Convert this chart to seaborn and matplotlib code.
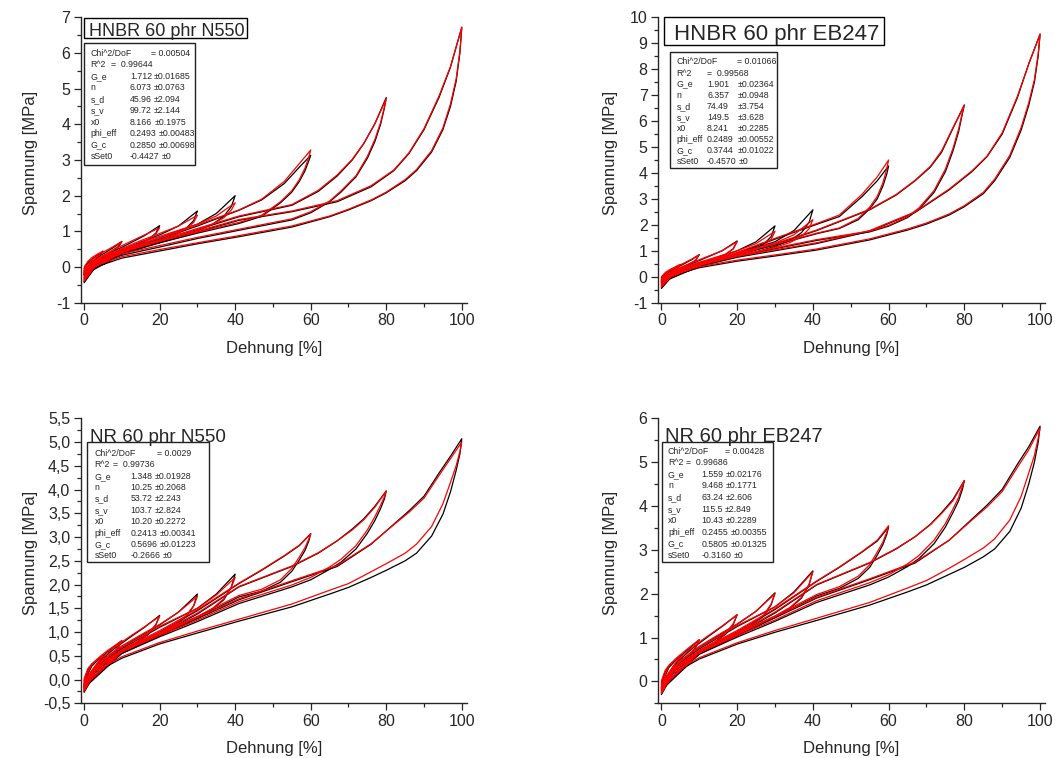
import matplotlib
matplotlib.use("Agg")
import matplotlib.pyplot as plt
from matplotlib.patches import Rectangle
from matplotlib.ticker import MultipleLocator, FuncFormatter
import seaborn as sns
import pandas as pd

sns.set_style("ticks")
plt.rcParams['font.family'] = ['Liberation Sans', 'DejaVu Sans']

W, H = 1055, 758

# ---------------- data ----------------
PEAKS = [5, 10, 20, 30, 40, 60, 80, 100]
LOAD_X = [
    [0, 1, 2, 3.5, 5],
    [0, 2, 4, 6, 8, 10],
    [0, 4, 8, 12, 16, 20],
    [0, 5, 10, 15, 20, 25, 30],
    [0, 5, 10, 20, 30, 35, 40],
    [0, 10, 20, 30, 41, 47, 53, 57, 60],
    [0, 10, 20, 30, 41, 55, 62, 67, 71, 74, 77, 80],
    [0, 10, 20, 41, 55, 67, 76, 82, 86, 90, 94, 97, 100],
]
UNLOAD_X = [
    [5, 4, 3, 2, 1, 0],
    [10, 9, 7, 5, 3, 1, 0],
    [20, 19, 17, 14, 10, 6, 2, 0],
    [30, 29, 27, 24, 20, 14, 8, 3, 0],
    [40, 39, 37, 34, 30, 24, 16, 8, 3, 0],
    [60, 59.5, 58.5, 57, 55, 52, 47, 41, 30, 20, 10, 3, 0],
    [80, 79.5, 78.5, 77, 75, 72, 68, 65, 60, 55, 41, 30, 20, 10, 3, 0],
    [100, 99.5, 98.5, 97, 95, 92, 88, 85, 80, 76, 70, 65, 55, 41, 30, 20, 10, 3, 0],
]

# HNBR 60 phr N550  (K = Messung, schwarz; R = Fit, rot)
A_LOAD_K = [
    [-0.05, 0.12, 0.22, 0.33, 0.43],
    [-0.1, 0.15, 0.3, 0.43, 0.56, 0.71],
    [-0.12, 0.22, 0.45, 0.66, 0.88, 1.16],
    [-0.15, 0.25, 0.48, 0.7, 0.9, 1.15, 1.57],
    [-0.18, 0.22, 0.45, 0.82, 1.2, 1.5, 2.0],
    [-0.2, 0.4, 0.78, 1.15, 1.59, 1.88, 2.34, 2.8, 3.13],
    [-0.2, 0.38, 0.72, 1.05, 1.41, 1.73, 2.12, 2.55, 3.0, 3.45, 4.02, 4.75],
    [-0.22, 0.36, 0.68, 1.31, 1.55, 1.83, 2.25, 2.7, 3.18, 3.85, 4.76, 5.6, 6.72],
]
A_UNLOAD_K = [
    [0.43, 0.3, 0.2, 0.1, -0.02, -0.2],
    [0.71, 0.55, 0.38, 0.26, 0.13, -0.05, -0.25],
    [1.16, 0.95, 0.77, 0.6, 0.43, 0.25, 0.02, -0.3],
    [1.57, 1.3, 1.08, 0.9, 0.72, 0.52, 0.3, 0.05, -0.33],
    [2.0, 1.7, 1.42, 1.2, 1.02, 0.82, 0.58, 0.32, 0.08, -0.36],
    [3.13, 2.98, 2.7, 2.4, 2.1, 1.8, 1.42, 1.22, 0.95, 0.68, 0.4, 0.1, -0.4],
    [4.75, 4.45, 4.0, 3.52, 3.05, 2.53, 2.1, 1.83, 1.52, 1.32, 1.03, 0.8, 0.56, 0.33, 0.06, -0.42],
    [6.72, 6.0, 5.2, 4.5, 3.85, 3.22, 2.7, 2.42, 2.08, 1.86, 1.6, 1.41, 1.12, 0.85, 0.65, 0.45, 0.25, 0.0, -0.44],
]
A_LOAD_R = [
    [0.0, 0.16, 0.26, 0.36, 0.45],
    [-0.05, 0.2, 0.35, 0.47, 0.59, 0.72],
    [-0.08, 0.27, 0.5, 0.7, 0.9, 1.1],
    [-0.1, 0.3, 0.52, 0.74, 0.94, 1.15, 1.45],
    [-0.12, 0.28, 0.5, 0.86, 1.2, 1.43, 1.8],
    [-0.15, 0.45, 0.82, 1.18, 1.6, 1.9, 2.4, 2.9, 3.28],
    [-0.15, 0.43, 0.76, 1.08, 1.43, 1.75, 2.15, 2.58, 3.02, 3.46, 4.02, 4.72],
    [-0.17, 0.41, 0.72, 1.33, 1.57, 1.86, 2.28, 2.72, 3.2, 3.88, 4.8, 5.62, 6.72],
]
A_UNLOAD_R = [
    [0.45, 0.33, 0.24, 0.14, 0.02, -0.15],
    [0.72, 0.58, 0.42, 0.3, 0.17, -0.01, -0.2],
    [1.1, 0.93, 0.78, 0.63, 0.47, 0.29, 0.06, -0.25],
    [1.45, 1.25, 1.07, 0.92, 0.75, 0.56, 0.34, 0.09, -0.28],
    [1.8, 1.6, 1.38, 1.2, 1.04, 0.85, 0.62, 0.36, 0.12, -0.3],
    [3.28, 3.08, 2.78, 2.45, 2.14, 1.83, 1.45, 1.25, 0.98, 0.72, 0.44, 0.14, -0.35],
    [4.72, 4.48, 4.05, 3.58, 3.1, 2.56, 2.13, 1.85, 1.55, 1.35, 1.06, 0.83, 0.6, 0.37, 0.1, -0.38],
    [6.72, 6.05, 5.27, 4.57, 3.9, 3.26, 2.73, 2.45, 2.1, 1.88, 1.62, 1.43, 1.15, 0.88, 0.68, 0.49, 0.29, 0.04, -0.4],
]

# HNBR 60 phr EB247
B_LOAD_K = [
    [-0.05, 0.12, 0.22, 0.34, 0.46],
    [-0.1, 0.18, 0.35, 0.5, 0.66, 0.85],
    [-0.12, 0.25, 0.5, 0.75, 1.0, 1.38],
    [-0.15, 0.27, 0.52, 0.76, 1.0, 1.35, 1.96],
    [-0.18, 0.25, 0.5, 0.9, 1.35, 1.78, 2.58],
    [-0.2, 0.45, 0.9, 1.45, 2.02, 2.32, 3.09, 3.7, 4.27],
    [-0.2, 0.42, 0.82, 1.25, 1.78, 2.58, 3.15, 3.7, 4.22, 4.8, 5.72, 6.62],
    [-0.22, 0.4, 0.75, 1.28, 1.75, 2.48, 3.35, 4.05, 4.63, 5.5, 6.9, 8.2, 9.35],
]
B_UNLOAD_K = [
    [0.46, 0.3, 0.2, 0.1, -0.02, -0.2],
    [0.85, 0.62, 0.44, 0.3, 0.15, -0.05, -0.25],
    [1.38, 1.08, 0.86, 0.68, 0.48, 0.28, 0.02, -0.3],
    [1.96, 1.55, 1.25, 1.02, 0.82, 0.58, 0.33, 0.06, -0.33],
    [2.58, 2.1, 1.7, 1.4, 1.17, 0.92, 0.64, 0.35, 0.08, -0.36],
    [4.27, 3.95, 3.5, 3.0, 2.62, 2.2, 1.86, 1.66, 1.22, 0.86, 0.5, 0.12, -0.4],
    [6.62, 6.3, 5.6, 4.85, 4.05, 3.25, 2.6, 2.28, 1.95, 1.73, 1.4, 1.08, 0.78, 0.45, 0.1, -0.42],
    [9.35, 8.5, 7.5, 6.6, 5.65, 4.6, 3.7, 3.2, 2.7, 2.38, 2.03, 1.8, 1.42, 1.03, 0.8, 0.6, 0.35, 0.05, -0.45],
]
B_LOAD_R = [
    [0.0, 0.16, 0.26, 0.37, 0.48],
    [-0.05, 0.22, 0.39, 0.53, 0.68, 0.85],
    [-0.08, 0.3, 0.54, 0.77, 1.0, 1.35],
    [-0.1, 0.32, 0.56, 0.78, 1.0, 1.28, 1.75],
    [-0.12, 0.3, 0.54, 0.92, 1.3, 1.62, 2.2],
    [-0.15, 0.5, 0.94, 1.48, 2.05, 2.38, 3.18, 3.85, 4.5],
    [-0.15, 0.47, 0.86, 1.28, 1.8, 2.6, 3.17, 3.72, 4.25, 4.85, 5.75, 6.62],
    [-0.17, 0.45, 0.79, 1.31, 1.78, 2.5, 3.38, 4.08, 4.65, 5.55, 6.95, 8.2, 9.35],
]
B_UNLOAD_R = [
    [0.48, 0.33, 0.24, 0.14, 0.02, -0.15],
    [0.85, 0.64, 0.47, 0.33, 0.19, -0.01, -0.2],
    [1.35, 1.08, 0.88, 0.7, 0.51, 0.31, 0.06, -0.25],
    [1.75, 1.45, 1.2, 1.0, 0.83, 0.6, 0.36, 0.1, -0.28],
    [2.2, 1.85, 1.55, 1.32, 1.14, 0.92, 0.66, 0.38, 0.12, -0.3],
    [4.5, 4.15, 3.62, 3.1, 2.68, 2.25, 1.88, 1.68, 1.25, 0.9, 0.54, 0.16, -0.35],
    [6.62, 6.35, 5.7, 4.95, 4.15, 3.32, 2.65, 2.32, 1.98, 1.76, 1.43, 1.11, 0.82, 0.49, 0.14, -0.38],
    [9.35, 8.6, 7.6, 6.7, 5.75, 4.68, 3.76, 3.25, 2.74, 2.42, 2.07, 1.84, 1.46, 1.07, 0.84, 0.64, 0.39, 0.09, -0.4],
]

# NR 60 phr N550
C_LOAD_K = [
    [-0.02, 0.2, 0.3, 0.41, 0.5],
    [-0.05, 0.28, 0.44, 0.57, 0.69, 0.82],
    [-0.08, 0.38, 0.65, 0.88, 1.1, 1.35],
    [-0.1, 0.4, 0.68, 0.92, 1.15, 1.42, 1.8],
    [-0.12, 0.38, 0.65, 1.1, 1.5, 1.8, 2.22],
    [-0.15, 0.6, 1.0, 1.45, 2.02, 2.3, 2.6, 2.82, 3.07],
    [-0.16, 0.58, 0.95, 1.38, 1.95, 2.38, 2.66, 2.92, 3.17, 3.38, 3.65, 3.97],
    [-0.18, 0.55, 0.92, 1.68, 2.06, 2.38, 2.85, 3.27, 3.55, 3.86, 4.35, 4.7, 5.07],
]
C_UNLOAD_K = [
    [0.5, 0.36, 0.26, 0.16, 0.05, -0.12],
    [0.82, 0.66, 0.5, 0.38, 0.24, 0.05, -0.15],
    [1.35, 1.15, 0.95, 0.78, 0.6, 0.4, 0.12, -0.18],
    [1.8, 1.55, 1.32, 1.15, 0.97, 0.76, 0.5, 0.2, -0.2],
    [2.22, 1.95, 1.68, 1.48, 1.3, 1.08, 0.8, 0.48, 0.18, -0.22],
    [3.07, 2.92, 2.72, 2.52, 2.28, 2.05, 1.86, 1.74, 1.3, 0.95, 0.56, 0.2, -0.24],
    [3.97, 3.8, 3.6, 3.35, 3.08, 2.75, 2.47, 2.32, 2.1, 1.95, 1.6, 1.22, 0.9, 0.55, 0.2, -0.25],
    [5.07, 4.75, 4.4, 3.95, 3.48, 3.02, 2.66, 2.5, 2.3, 2.15, 1.94, 1.8, 1.53, 1.23, 0.98, 0.75, 0.45, 0.15, -0.27],
]
C_LOAD_R = [
    [0.02, 0.23, 0.33, 0.43, 0.5],
    [-0.01, 0.31, 0.47, 0.6, 0.71, 0.82],
    [-0.04, 0.41, 0.68, 0.9, 1.11, 1.33],
    [-0.06, 0.43, 0.71, 0.94, 1.16, 1.42, 1.75],
    [-0.08, 0.41, 0.68, 1.12, 1.5, 1.78, 2.15],
    [-0.11, 0.63, 1.03, 1.47, 2.03, 2.31, 2.61, 2.83, 3.07],
    [-0.12, 0.61, 0.98, 1.4, 1.96, 2.39, 2.67, 2.92, 3.15, 3.36, 3.63, 3.97],
    [-0.14, 0.58, 0.95, 1.7, 2.08, 2.4, 2.86, 3.26, 3.52, 3.82, 4.3, 4.65, 5.0],
]
C_UNLOAD_R = [
    [0.5, 0.38, 0.28, 0.18, 0.07, -0.1],
    [0.82, 0.68, 0.52, 0.4, 0.26, 0.07, -0.13],
    [1.33, 1.16, 0.97, 0.8, 0.62, 0.42, 0.14, -0.16],
    [1.75, 1.55, 1.34, 1.17, 0.99, 0.78, 0.52, 0.22, -0.18],
    [2.15, 1.95, 1.7, 1.5, 1.32, 1.1, 0.82, 0.5, 0.2, -0.2],
    [3.07, 2.96, 2.78, 2.58, 2.34, 2.1, 1.9, 1.77, 1.33, 0.98, 0.59, 0.22, -0.22],
    [3.97, 3.85, 3.67, 3.43, 3.15, 2.82, 2.53, 2.37, 2.15, 1.99, 1.64, 1.25, 0.93, 0.58, 0.22, -0.23],
    [5.0, 4.8, 4.5, 4.15, 3.7, 3.22, 2.85, 2.66, 2.44, 2.27, 2.02, 1.88, 1.59, 1.27, 1.02, 0.78, 0.48, 0.18, -0.25],
]

# NR 60 phr EB247
D_LOAD_K = [
    [-0.03, 0.22, 0.34, 0.47, 0.6],
    [-0.06, 0.32, 0.5, 0.65, 0.8, 0.95],
    [-0.09, 0.43, 0.74, 1.0, 1.25, 1.52],
    [-0.11, 0.45, 0.77, 1.04, 1.3, 1.6, 2.02],
    [-0.13, 0.43, 0.74, 1.25, 1.7, 2.04, 2.52],
    [-0.17, 0.68, 1.13, 1.64, 2.28, 2.6, 2.95, 3.2, 3.52],
    [-0.18, 0.66, 1.07, 1.56, 2.2, 2.7, 3.02, 3.3, 3.58, 3.85, 4.15, 4.58],
    [-0.2, 0.62, 1.04, 1.9, 2.32, 2.7, 3.22, 3.7, 4.02, 4.38, 4.95, 5.35, 5.82],
]
D_UNLOAD_K = [
    [0.6, 0.42, 0.3, 0.18, 0.05, -0.14],
    [0.95, 0.76, 0.57, 0.43, 0.27, 0.05, -0.17],
    [1.52, 1.3, 1.08, 0.88, 0.68, 0.45, 0.13, -0.2],
    [2.02, 1.75, 1.49, 1.3, 1.1, 0.86, 0.56, 0.22, -0.22],
    [2.52, 2.2, 1.9, 1.67, 1.47, 1.22, 0.9, 0.54, 0.2, -0.25],
    [3.52, 3.35, 3.12, 2.88, 2.6, 2.35, 2.12, 1.95, 1.46, 1.07, 0.63, 0.22, -0.27],
    [4.58, 4.38, 4.12, 3.85, 3.52, 3.14, 2.8, 2.62, 2.38, 2.2, 1.8, 1.37, 1.01, 0.62, 0.22, -0.28],
    [5.82, 5.45, 5.0, 4.5, 3.95, 3.42, 3.02, 2.84, 2.6, 2.44, 2.2, 2.04, 1.74, 1.39, 1.12, 0.85, 0.51, 0.17, -0.3],
]
D_LOAD_R = [
    [0.01, 0.25, 0.37, 0.49, 0.6],
    [-0.02, 0.35, 0.53, 0.68, 0.82, 0.95],
    [-0.05, 0.46, 0.77, 1.02, 1.26, 1.52],
    [-0.07, 0.48, 0.8, 1.06, 1.31, 1.6, 2.0],
    [-0.09, 0.46, 0.77, 1.27, 1.7, 2.02, 2.5],
    [-0.13, 0.71, 1.16, 1.66, 2.29, 2.61, 2.96, 3.22, 3.55],
    [-0.14, 0.69, 1.1, 1.58, 2.21, 2.71, 3.03, 3.3, 3.57, 3.83, 4.12, 4.58],
    [-0.16, 0.65, 1.07, 1.92, 2.34, 2.72, 3.22, 3.68, 3.98, 4.33, 4.88, 5.28, 5.78],
]
D_UNLOAD_R = [
    [0.6, 0.44, 0.32, 0.2, 0.07, -0.12],
    [0.95, 0.78, 0.59, 0.45, 0.29, 0.07, -0.15],
    [1.52, 1.32, 1.1, 0.9, 0.7, 0.47, 0.15, -0.18],
    [2.0, 1.77, 1.51, 1.32, 1.12, 0.88, 0.58, 0.24, -0.2],
    [2.5, 2.22, 1.92, 1.69, 1.49, 1.24, 0.92, 0.56, 0.22, -0.23],
    [3.55, 3.4, 3.18, 2.95, 2.66, 2.4, 2.16, 1.98, 1.49, 1.1, 0.66, 0.24, -0.25],
    [4.58, 4.45, 4.2, 3.93, 3.6, 3.22, 2.87, 2.68, 2.43, 2.25, 1.84, 1.4, 1.04, 0.65, 0.24, -0.26],
    [5.78, 5.55, 5.15, 4.75, 4.22, 3.68, 3.25, 3.04, 2.78, 2.58, 2.3, 2.13, 1.8, 1.44, 1.16, 0.88, 0.54, 0.2, -0.28],
]

TITLES = ["HNBR 60 phr N550", "HNBR 60 phr EB247", "NR 60 phr N550", "NR 60 phr EB247"]
PARAM_NAMES = ["G_e", "n", "s_d", "s_v", "x0", "phi_eff", "G_c", "sSet0"]
A_STATS = ["0.00504", "0.99644", ["1.712", "6.073", "45.96", "99.72", "8.166", "0.2493", "0.2850", "-0.4427"],
           ["0.01685", "0.0763", "2.094", "2.144", "0.1975", "0.00483", "0.00698", "0"]]
B_STATS = ["0.01066", "0.99568", ["1.901", "6.357", "74.49", "149.5", "8.241", "0.2489", "0.3744", "-0.4570"],
           ["0.02364", "0.0948", "3.754", "3.628", "0.2285", "0.00552", "0.01022", "0"]]
C_STATS = ["0.0029", "0.99736", ["1.348", "10.25", "53.72", "103.7", "10.20", "0.2413", "0.5696", "-0.2666"],
           ["0.01928", "0.2068", "2.243", "2.824", "0.2272", "0.00341", "0.01223", "0"]]
D_STATS = ["0.00428", "0.99686", ["1.559", "9.468", "63.24", "115.5", "10.43", "0.2455", "0.5805", "-0.3160"],
           ["0.02176", "0.1771", "2.606", "2.849", "0.2289", "0.00355", "0.01325", "0"]]

# ---------------- helpers ----------------
def build_frame(load_k, unload_k, load_r, unload_r):
    rows = []
    for i, p in enumerate(PEAKS):
        for src, ly, uy in (("Messung", load_k[i], unload_k[i]), ("Fit", load_r[i], unload_r[i])):
            assert len(ly) == len(LOAD_X[i]) and len(uy) == len(UNLOAD_X[i]), (src, p, len(ly), len(uy))
            order = 0
            for x, y in zip(LOAD_X[i], ly):
                rows.append((src, f"{src}{p}", order, x, y)); order += 1
            for x, y in zip(UNLOAD_X[i], uy):
                rows.append((src, f"{src}{p}", order, x, y)); order += 1
    return pd.DataFrame(rows, columns=["src", "loop", "order", "strain", "stress"])


def fx(px):
    return px / W


def fy(py):
    return 1 - py / H


fig = plt.figure(figsize=(W / 100, H / 100), dpi=100)
renderer = fig.canvas.get_renderer()


def right_px(txt):
    return txt.get_window_extent(renderer).x1


panels = [
    dict(data=(A_LOAD_K, A_UNLOAD_K, A_LOAD_R, A_UNLOAD_R), stats=A_STATS,
         box=(80.7, 17.3, 466.7, 302.7), ylim=(-1, 7), ymaj=1, ymin=0.5, comma=False,
         ylab=(31, 153), xlab=(274, 348),
         tbox=(84, 18.3, 247, 38.3), ttxt=(89.3, 35.5), tsize=13,
         sbox=(84, 43, 195, 165), cols=(90.5, 111, 130, 151.7, 151), row0=53.5, dr=11.45),
    dict(data=(B_LOAD_K, B_UNLOAD_K, B_LOAD_R, B_UNLOAD_R), stats=B_STATS,
         box=(658, 17.3, 1045, 302.7), ylim=(-1, 10), ymaj=1, ymin=0.5, comma=False,
         ylab=(611, 153), xlab=(851, 348),
         tbox=(664, 16.7, 884, 45), ttxt=(674, 40), tsize=16,
         sbox=(670, 52, 777, 168), cols=(676.5, 707, 707, 738, 737), row0=62, dr=11.1),
    dict(data=(C_LOAD_K, C_UNLOAD_K, C_LOAD_R, C_UNLOAD_R), stats=C_STATS,
         box=(80.7, 418.3, 466.7, 703.3), ylim=(-0.5, 5.5), ymaj=0.5, ymin=0.25, comma=True,
         ylab=(31, 553), xlab=(274, 748),
         tbox=None, ttxt=(90, 441.5), tsize=13.5,
         sbox=(87, 442, 209, 562), cols=(94.5, 113, 130.5, 151.7, 157), row0=453.5, dr=11.37),
    dict(data=(D_LOAD_K, D_UNLOAD_K, D_LOAD_R, D_UNLOAD_R), stats=D_STATS,
         box=(658, 418.3, 1045, 703.3), ylim=(-0.5, 6), ymaj=1, ymin=0.5, comma=False,
         ylab=(611, 553), xlab=(851, 748),
         tbox=None, ttxt=(665, 442), tsize=14.5,
         sbox=(662, 442, 773, 562), cols=(668, 686.5, 701.5, 724, 725), row0=451, dr=11.65),
]

for k, pnl in enumerate(panels):
    l, t, r, b = pnl["box"]
    ax = fig.add_axes([fx(l), fy(b), (r - l) / W, (b - t) / H])
    df = build_frame(*pnl["data"])
    sns.lineplot(data=df, x="strain", y="stress", hue="src", units="loop", estimator=None,
                 sort=False, hue_order=["Messung", "Fit"],
                 palette={"Messung": "black", "Fit": "#ff0000"}, legend=False,
                 linewidth=0.9, ax=ax)
    ax.set_xlim(-0.9, 101.3)
    ax.set_ylim(*pnl["ylim"])
    ax.set_xlabel("")
    ax.set_ylabel("")
    sns.despine(ax=ax)
    for s in ("left", "bottom"):
        ax.spines[s].set_linewidth(1.0)
    ax.xaxis.set_major_locator(MultipleLocator(20))
    ax.xaxis.set_minor_locator(MultipleLocator(10))
    ax.yaxis.set_major_locator(MultipleLocator(pnl["ymaj"]))
    ax.yaxis.set_minor_locator(MultipleLocator(pnl["ymin"]))
    if pnl["comma"]:
        ax.yaxis.set_major_formatter(FuncFormatter(
            lambda v, p: ("0,0" if abs(v) < 1e-9 else f"{v:.1f}".replace(".", ","))))
    else:
        ax.yaxis.set_major_formatter(FuncFormatter(
            lambda v, p: ("0" if abs(v) < 1e-9 else f"{v:.0f}")))
    ax.tick_params(which="major", direction="out", length=5, width=0.9, labelsize=11.5, pad=2.5)
    ax.tick_params(which="minor", direction="out", length=2.8, width=0.9)

    fig.text(fx(pnl["ylab"][0]), fy(pnl["ylab"][1]), "Spannung [MPa]", rotation=90,
             ha="center", va="center", fontsize=12)
    fig.text(fx(pnl["xlab"][0]), fy(pnl["xlab"][1]), "Dehnung [%]", ha="center", va="center", fontsize=12)

    # title
    if pnl["tbox"] is not None:
        x0, y0, x1, y1 = pnl["tbox"]
        fig.add_artist(Rectangle((fx(x0), fy(y1)), (x1 - x0) / W, (y1 - y0) / H,
                                 transform=fig.transFigure, fill=True, facecolor="white",
                                 edgecolor="black", linewidth=1.0))
    fig.text(fx(pnl["ttxt"][0]), fy(pnl["ttxt"][1]), TITLES[k], ha="left", va="baseline",
             fontsize=pnl["tsize"])

    # stats box
    x0, y0, x1, y1 = pnl["sbox"]
    fig.add_artist(Rectangle((fx(x0), fy(y1)), (x1 - x0) / W, (y1 - y0) / H,
                             transform=fig.transFigure, fill=True, facecolor="white",
                             edgecolor="#222222", linewidth=1.0))
    c1, creq, c2, c3, cchi = pnl["cols"]
    chi, r2, vals, errs = pnl["stats"]
    fs = 6.3
    y = pnl["row0"]
    fig.text(fx(c1), fy(y), "Chi^2/DoF", fontsize=fs, va="center")
    fig.text(fx(cchi), fy(y), "= " + chi, fontsize=fs, va="center")
    y += pnl["dr"]
    fig.text(fx(c1), fy(y), "R^2", fontsize=fs, va="center")
    fig.text(fx(creq), fy(y), "=  " + r2, fontsize=fs, va="center")
    for name, v, e in zip(PARAM_NAMES, vals, errs):
        y += pnl["dr"]
        tn = fig.text(fx(c1), fy(y), name, fontsize=fs, va="center")
        xv = max(c2, right_px(tn) + 2.5)
        tv = fig.text(fx(xv), fy(y), v, fontsize=fs, va="center")
        xe = max(c3, right_px(tv) + 2.0)
        fig.text(fx(xe), fy(y), "\u00b1" + e, fontsize=fs, va="center")

fig.savefig("out.png", dpi=100)
